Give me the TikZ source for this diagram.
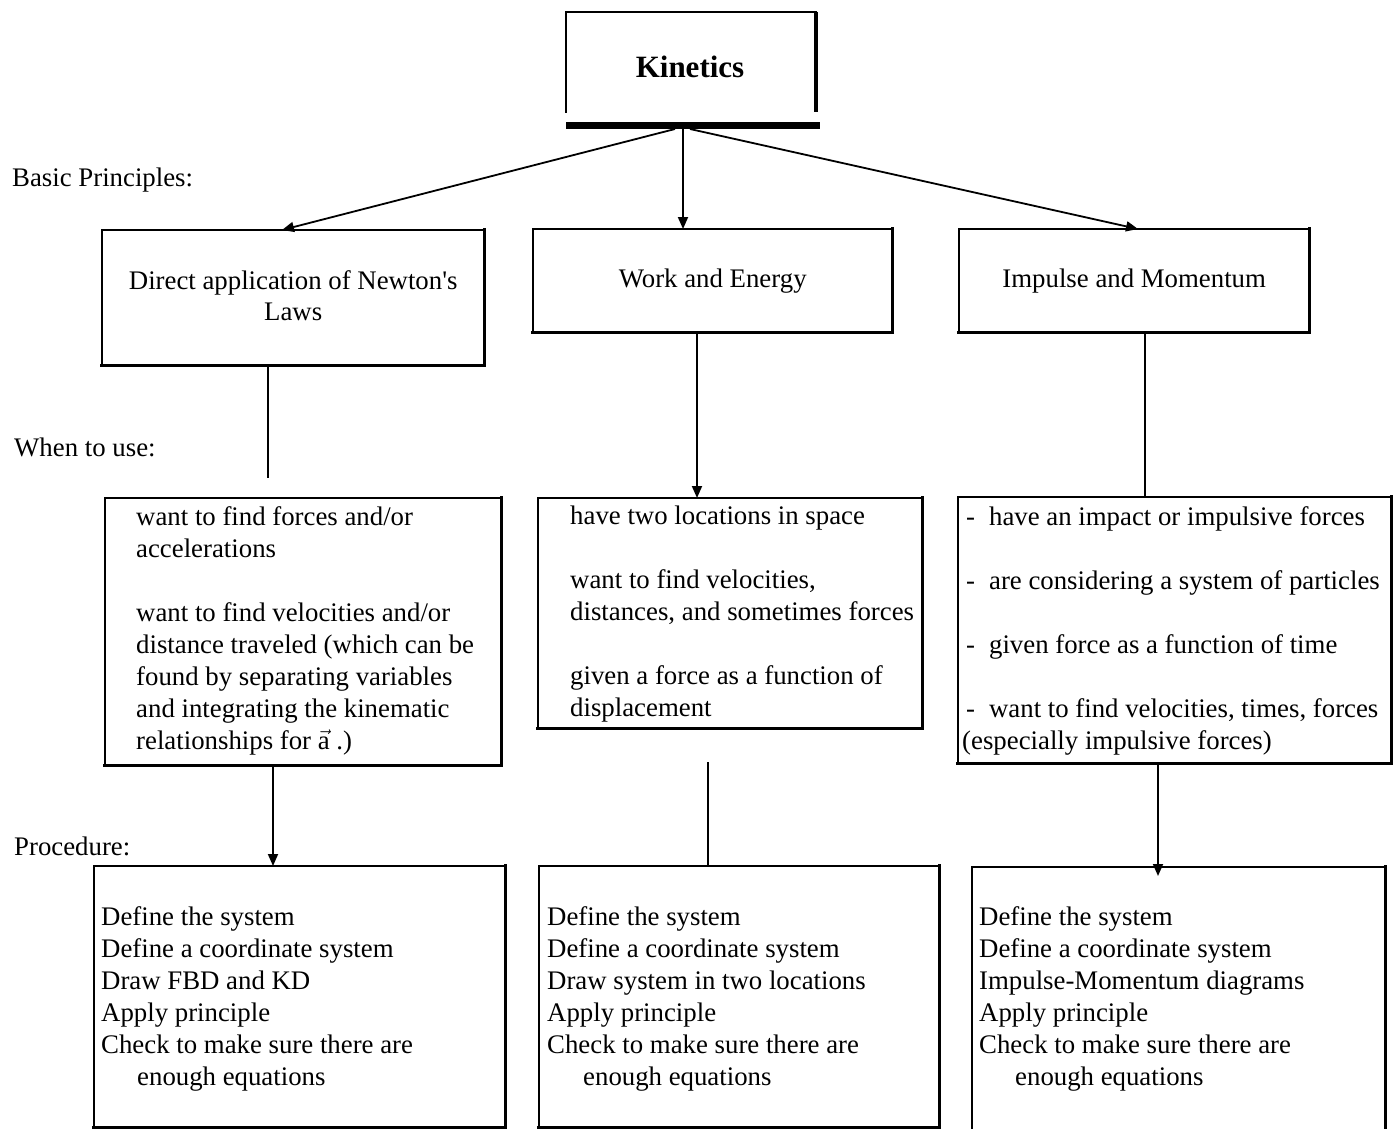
\documentclass[tikz,border=0pt]{standalone}
\usepackage{fontspec}
\setmainfont{Liberation Serif}
\usetikzlibrary{arrows.meta,calc}
\newcommand\shbox[1]{%
  \draw[thinedge] (#1.south west) -- (#1.north west) -- (#1.north east);
  \draw[thickedge] (#1.north east) -- (#1.south east) -- (#1.south west);}
\newcommand\bul{\hspace*{4pt}-\hspace*{14pt}}
\begin{document}
\begin{tikzpicture}[x=1pt,y=-1pt,
  box/.style={rectangle, inner sep=0pt, anchor=north west, align=center,
    font=\fontsize{26.8}{31}\selectfont},
  thinedge/.style={line width=1.5pt, line cap=rect},
  thickedge/.style={line width=3.5pt, line cap=rect},
  conn/.style={line width=1.8pt},
  arr/.style={conn, -{Triangle[length=12pt,width=10pt]}},
  body/.style={font=\fontsize{26.8}{32}\selectfont, align=left, inner sep=0pt, anchor=west},
  title/.style={font=\fontsize{31}{36}\selectfont\bfseries, inner sep=0pt}]
\useasboundingbox[fill=white] (0,0) rectangle (1393,1129);

% Kinetics box
\node[box, minimum width=250pt, minimum height=100pt] (k) at (566,12) {};
\node[title] (kt) at (690,67) {Kinetics};
\draw[thinedge] (k.south west) -- (k.north west) -- (k.north east);
\draw[line width=4pt] (k.north east) -- (k.south east);
\coordinate (kbl) at ($(k.south west)+(0,13)$);
\draw[line width=6.5pt] (kbl) -- ++(254,0);
\coordinate (kbar) at (683,128);
\coordinate (kbarl) at (675,129);
\coordinate (kbarr) at (690,129);

% row labels
\node[body] (lbp) at (12,180) {Basic Principles:};
\node[body] (lwu) at (14,447) {When to use:};
\node[body] (lpr) at (14,846) {Procedure:};

% row 1
\node[box, minimum width=382pt, minimum height=131pt] (a1) at (102,230)
  {Direct application of Newton\textquotesingle s\\Laws};
\node[box, minimum width=359pt, minimum height=103pt] (b1) at (533,229)
  {Work and Energy};
\node[box, minimum width=350pt, minimum height=103pt] (c1) at (959,229)
  {Impulse and Momentum};
\coordinate (a1bot) at ($(a1.south west)+(0,4)$);
\coordinate (a1botr) at ($(a1.south east)+(0,4)$);
\draw[thinedge] (a1bot) -- (a1.north west) -- (a1.north east);
\draw[thickedge] (a1.north east) -- (a1botr) -- (a1bot);
\shbox{b1}\shbox{c1}

% row 2
\node[box, minimum width=396pt, minimum height=267pt] (a2) at (105,498) {};
\node[box, minimum width=384pt, minimum height=230pt] (b2) at (538,498) {};
\node[box, minimum width=433pt, minimum height=266pt] (c2) at (958,497) {};
\shbox{a2}\shbox{b2}\shbox{c2}
\node[body] (a2t) at (136,630.5) {want to find forces and/or\\
accelerations\\[32pt]
want to find velocities and/or\\
distance traveled (which can be\\
found by separating variables\\
and integrating the kinematic\\
relationships for \(\vec{\textrm{a}}\) .)};
\node[body] (b2t) at (570,614.5) {have two locations in space\\[32pt]
want to find velocities,\\
distances, and sometimes forces\\[32pt]
given a force as a function of\\
displacement};
\node[body] (c2t) at (962,631) {\bul have an impact or impulsive forces\\[32pt]
\bul are considering a system of particles\\[32pt]
\bul given force as a function of time\\[32pt]
\bul want to find velocities, times, forces\\
(especially impulsive forces)};

% row 3
\node[box, minimum width=411pt, minimum height=261pt] (a3) at (94,866) {};
\node[box, minimum width=400pt, minimum height=261pt] (b3) at (539,866) {};
\node[box, minimum width=413pt, minimum height=275pt] (c3) at (972,867) {};
\shbox{a3}\shbox{b3}\shbox{c3}
\node[body] (a3t) at (101,999) {Define the system\\
Define a coordinate system\\
Draw FBD and KD\\
Apply principle\\
Check to make sure there are\\
\hspace*{36pt}enough equations};
\node[body] (b3t) at (547,999) {Define the system\\
Define a coordinate system\\
Draw system in two locations\\
Apply principle\\
Check to make sure there are\\
\hspace*{36pt}enough equations};
\node[body] (c3t) at (979,999) {Define the system\\
Define a coordinate system\\
Impulse-Momentum diagrams\\
Apply principle\\
Check to make sure there are\\
\hspace*{36pt}enough equations};

% connectors
\draw[arr] (kbarl) -- ($(a1.north west)+(180,0)$);
\draw[arr] (kbar) -- (kbar |- b1.north);
\draw[arr] (kbarr) -- ($(c1.north west)+(179,0)$);

\coordinate (a1s) at ($(a1bot)+(166,0)$);
\coordinate (a1e) at (268,478);
\draw[conn] (a1s) -- (a1e);
\coordinate (b1s) at ($(b1.south west)+(164,0)$);
\draw[arr] (b1s) -- (b1s |- b2.north);
\coordinate (c1s) at ($(c1.south west)+(186,0)$);
\draw[conn] (c1s) -- (c1s |- c2.north);

\coordinate (a2s) at ($(a2.south west)+(168,0)$);
\draw[arr] (a2s) -- (a2s |- a3.north);
\coordinate (b2e) at (708,762);
\draw[conn] (b2e) -- (b2e |- b3.north);
\coordinate (c2s) at ($(c2.south west)+(200,0)$);
\coordinate (c3in) at ($(c2s |- c3.north)+(0,9)$);
\draw[arr] (c2s) -- (c3in);
\end{tikzpicture}
\end{document}
